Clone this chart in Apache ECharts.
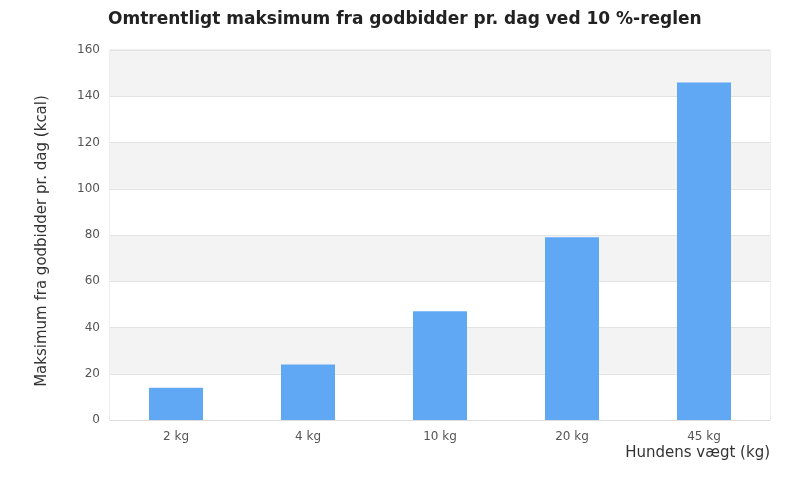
<!DOCTYPE html>
<html>
<head>
<meta charset="utf-8">
<script src="https://cdn.jsdelivr.net/npm/echarts@6/dist/echarts.min.js"></script>
<style>
html,body{margin:0;padding:0;background:#fff;}
#chart{width:800px;height:500px;}
</style>
</head>
<body>
<div id="chart"></div>
<script>
// hundens vægt og maks. kcal fra godbidder pr. dag
var categories = ['2 kg', '4 kg', '10 kg', '20 kg', '45 kg'];
var treatKcal = [14, 24, 47, 79, 146];
var yTicks = [0, 20, 40, 60, 80, 100, 120, 140, 160];

var myChart = echarts.init(document.getElementById('chart'));

var option = {
    textStyle: { fontFamily: 'DejaVu Sans' },
    title: {
        text: 'Omtrentligt maksimum fra godbidder pr. dag ved 10 %-reglen',
        left: 103,
        top: 6,
        textStyle: { fontSize: 17, fontWeight: 'bold', color: '#222', fontFamily: 'DejaVu Sans' }
    },
    grid: {
        left: 110,
        right: 30,
        top: 50,
        bottom: 80,
        show: true,
        borderColor: '#dddddd',
        borderWidth: 1
    },
    xAxis: {
        type: 'category',
        data: categories,
        name: 'Hundens vægt (kg)',
        nameLocation: 'end',
        nameGap: 0,
        nameTextStyle: {
            fontSize: 15, color: '#333',
            align: 'right', verticalAlign: 'top',
            padding: [26, 0, 0, 0]
        },
        axisLine: { lineStyle: { color: '#dddddd' } },
        axisTick: { show: false },
        axisLabel: { color: '#555', fontSize: 12, margin: 11 }
    },
    yAxis: {
        type: 'value',
        min: yTicks[0],
        max: yTicks[yTicks.length - 1],
        interval: yTicks[1] - yTicks[0],
        name: 'Maksimum fra godbidder pr. dag (kcal)',
        nameLocation: 'middle',
        nameGap: 60,
        nameTextStyle: { fontSize: 15, color: '#333', padding: [0, 12, 0, 0] },
        axisLine: { show: false },
        axisTick: { show: false },
        axisLabel: { color: '#555', fontSize: 12, margin: 10 },
        splitLine: { lineStyle: { color: '#e3e3e3' } },
        splitArea: { show: true, areaStyle: { color: ['#ffffff', '#f3f3f3'] } }
    },
    series: [{
        name: 'kcal',
        type: 'bar',
        data: treatKcal,
        barWidth: 54,
        itemStyle: { color: '#60a8f4' }
    }]
};

myChart.setOption(option);
</script>
</body>
</html>
